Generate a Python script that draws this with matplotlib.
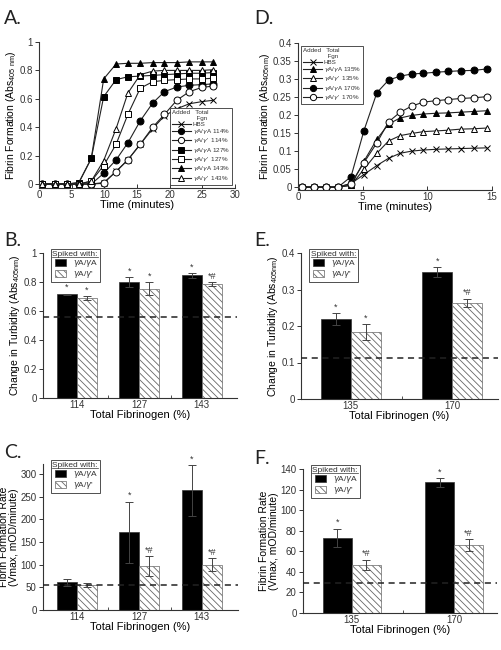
import numpy as np
import matplotlib
matplotlib.use('Agg')
import matplotlib.pyplot as plt
from matplotlib import ticker
from matplotlib.lines import Line2D

plt.rcParams['font.family'] = ['Liberation Sans', 'DejaVu Sans']
plt.rcParams['mathtext.fontset'] = 'custom'
plt.rcParams['mathtext.rm'] = 'Liberation Sans'
plt.rcParams['hatch.color'] = '#555555'
plt.rcParams['hatch.linewidth'] = 0.6
GRAY = '#333333'
plt.rcParams['text.color'] = GRAY
plt.rcParams['axes.edgecolor'] = GRAY
plt.rcParams['xtick.color'] = GRAY
plt.rcParams['ytick.color'] = GRAY

# ---- panel A: fibrin formation time course, 114-143% fibrinogen
time_a = [0.5, 2.4, 4.3, 6.1, 8.0, 9.9, 11.8, 13.6, 15.5, 17.4, 19.2, 21.1, 23.0, 24.9, 26.7]
hbs_a = [0, 0, 0, 0, 0, 0.005, 0.09, 0.17, 0.28, 0.39, 0.48, 0.53, 0.565, 0.58, 0.59]
aa114 = [0, 0, 0, 0, 0, 0.075, 0.17, 0.29, 0.445, 0.57, 0.65, 0.683, 0.695, 0.70, 0.705]
ap114 = [0, 0, 0, 0, 0, 0.01, 0.087, 0.17, 0.28, 0.40, 0.49, 0.59, 0.65, 0.68, 0.69]
aa127 = [0, 0, 0, 0.01, 0.18, 0.615, 0.735, 0.755, 0.76, 0.765, 0.77, 0.775, 0.78, 0.78, 0.785]
ap127 = [0, 0, 0, 0, 0.02, 0.13, 0.28, 0.49, 0.675, 0.72, 0.73, 0.735, 0.74, 0.74, 0.745]
aa143 = [0, 0, 0, 0.01, 0.18, 0.74, 0.845, 0.85, 0.85, 0.855, 0.855, 0.855, 0.86, 0.86, 0.86]
ap143 = [0, 0, 0, 0, 0.02, 0.165, 0.39, 0.64, 0.77, 0.795, 0.80, 0.80, 0.80, 0.80, 0.805]

# ---- panel D: fibrin formation time course, 135-170% fibrinogen
time_d = [0.3, 1.2, 2.2, 3.1, 4.1, 5.1, 6.1, 7.0, 7.9, 8.8, 9.7, 10.7, 11.6, 12.6, 13.6, 14.6]
hbs_d = [0, 0, 0, 0, 0.01, 0.035, 0.06, 0.08, 0.094, 0.10, 0.103, 0.105, 0.106, 0.107, 0.108, 0.109]
aa135 = [0, 0, 0, 0, 0.005, 0.072, 0.133, 0.175, 0.192, 0.199, 0.203, 0.205, 0.206, 0.208, 0.21, 0.212]
ap135 = [0, 0, 0, 0, 0.005, 0.05, 0.094, 0.128, 0.143, 0.149, 0.154, 0.156, 0.158, 0.161, 0.162, 0.164]
aa170 = [0, 0, 0, 0, 0.029, 0.157, 0.262, 0.297, 0.308, 0.314, 0.316, 0.319, 0.321, 0.323, 0.324, 0.328]
ap170 = [0, 0, 0, 0, 0.01, 0.068, 0.123, 0.181, 0.208, 0.225, 0.236, 0.24, 0.243, 0.246, 0.248, 0.251]

# ---- bar panels
fgn_low = ['114', '127', '143']
fgn_high = ['135', '170']

turb_aa_low = [0.715, 0.80, 0.845]
turb_aa_low_err = [0.005, 0.033, 0.018]
turb_ap_low = [0.69, 0.755, 0.785]
turb_ap_low_err = [0.015, 0.045, 0.015]
turb_hbs_low = 0.56
turb_marks_low = [['*', '*'], ['*', '*'], ['*', '*#']]

turb_aa_high = [0.22, 0.347]
turb_aa_high_err = [0.016, 0.014]
turb_ap_high = [0.184, 0.263]
turb_ap_high_err = [0.022, 0.012]
turb_hbs_high = 0.113
turb_marks_high = [['*', '*'], ['*', '*#']]

rate_aa_low = [61, 171, 264]
rate_aa_low_err = [7, 68, 56]
rate_ap_low = [55, 97, 100]
rate_ap_low_err = [4, 21, 14]
rate_hbs_low = 56
rate_marks_low = [['', ''], ['*', '*#'], ['*', '*#']]

rate_aa_high = [73, 127]
rate_aa_high_err = [9, 4.5]
rate_ap_high = [47, 66]
rate_ap_high_err = [5, 5.5]
rate_hbs_high = 29
rate_marks_high = [['*', '*#'], ['*', '*#']]

fig = plt.figure(figsize=(5.01, 6.5), dpi=100)
bar_legends = []


def time_panel(ax, t, series, styles, labels, ylim, yticks, xlim, xticks, ylabel, legloc):
  for y, (m, fc), lab in zip(series, styles, labels):
    ax.plot(t, y, color='#222222', lw=0.8, marker=m, ms=5, mfc=fc, mec='black', mew=0.7, label=lab)
  ax.set_xlim(xlim)
  ax.set_ylim(ylim)
  ax.set_xticks(xticks)
  ax.set_yticks(yticks)
  ax.yaxis.set_major_formatter(ticker.FormatStrFormatter('%g'))
  ax.tick_params(labelsize=7, length=3, width=0.7, pad=1.5)
  ax.tick_params(axis='x', direction='in')
  ax.set_xlabel('Time (minutes)', fontsize=8, labelpad=0)
  ax.set_ylabel(ylabel, fontsize=7.5, labelpad=1)
  for s in ['top', 'right']:
    ax.spines[s].set_visible(False)
  leg = ax.legend(loc=legloc, fontsize=4.5, title='Added   Total\n              Fgn', title_fontsize=4.5,
                  handlelength=3, handletextpad=0.3, labelspacing=0.05, borderpad=0.35,
                  fancybox=False, edgecolor=GRAY, framealpha=1, markerscale=0.9)
  leg.get_frame().set_linewidth(0.6)
  leg._legend_box.align = 'left'


def bar_panel(ax, cats, aa, aa_err, ap, ap_err, hbs, marks, width, xlim, ylim, yticks, ylabel):
  x = np.arange(len(cats))
  ax.bar(x - width / 2, aa, width, color='black', edgecolor=GRAY, lw=0.5, label=r'$\gamma$A/$\gamma$A', zorder=2)
  ax.bar(x + width / 2, ap, width, color='white', edgecolor='#666666', lw=0.5, hatch='\\\\\\\\\\',
         label=r"$\gamma$A/$\gamma$'", zorder=2)
  ax.errorbar(x - width / 2, aa, yerr=aa_err, fmt='none', ecolor='#444444', elinewidth=0.7, capsize=3, capthick=0.7, zorder=3)
  ax.errorbar(x + width / 2, ap, yerr=ap_err, fmt='none', ecolor='#444444', elinewidth=0.7, capsize=3, capthick=0.7, zorder=3)
  ax.axhline(hbs, color='#222222', ls=(0, (4, 3)), lw=1.1, zorder=4)
  gap = (ylim[1] - ylim[0]) * 0.01
  for i in range(len(cats)):
    ax.text(x[i] - width / 2, aa[i] + aa_err[i] + gap, marks[i][0], ha='center', va='bottom', fontsize=6.5)
    ax.text(x[i] + width / 2, ap[i] + ap_err[i] + gap, marks[i][1], ha='center', va='bottom', fontsize=6.5)
  ax.set_xlim(xlim)
  ax.set_ylim(ylim)
  ax.set_xticks(x)
  ax.set_xticklabels(cats)
  ax.set_xticks(x[:-1] + 0.5, minor=True)
  ax.set_yticks(yticks)
  ax.yaxis.set_major_formatter(ticker.FormatStrFormatter('%g'))
  ax.tick_params(labelsize=7, length=3, width=0.7, pad=1.5)
  ax.tick_params(axis='x', which='both', direction='in', length=2)
  ax.set_xlabel('Total Fibrinogen (%)', fontsize=8, labelpad=0)
  ax.set_ylabel(ylabel, fontsize=7.5, labelpad=1, linespacing=1.0)
  for s in ['top', 'right']:
    ax.spines[s].set_visible(False)
  leg = ax.legend(loc='upper left', bbox_to_anchor=(0.04, 1.025), fontsize=6, title='Spiked with:', title_fontsize=6,
                  handlelength=1.3, handleheight=0.9, handletextpad=0.8, labelspacing=0.0, borderpad=0.2,
                  borderaxespad=0.0, fancybox=False, edgecolor=GRAY, framealpha=1)
  leg.get_frame().set_linewidth(0.6)
  leg._legend_box.align = 'right'
  leg.set_zorder(5)
  bar_legends.append(leg)


styles_a = [('x', 'none'), ('o', 'black'), ('o', 'white'), ('s', 'black'), ('s', 'white'), ('^', 'black'), ('^', 'white')]
labels_a = ['HBS', r'$\gamma$A/$\gamma$A 114%', r"$\gamma$A/$\gamma$'  114%", r'$\gamma$A/$\gamma$A 127%',
            r"$\gamma$A/$\gamma$'  127%", r'$\gamma$A/$\gamma$A 143%', r"$\gamma$A/$\gamma$'  143%"]
ax_a = fig.add_axes([39 / 501, 1 - 188 / 650, 196 / 501, 146 / 650])
time_panel(ax_a, time_a, [hbs_a, aa114, ap114, aa127, ap127, aa143, ap143], styles_a, labels_a,
           (-0.028, 1.0), [0, 0.2, 0.4, 0.6, 0.8, 1], (0, 30), [0, 5, 10, 15, 20, 25, 30],
           r'Fibrin Formation (Abs$_{\mathregular{405\ nm}}$)', 'lower right')

styles_d = [('x', 'none'), ('^', 'black'), ('^', 'white'), ('o', 'black'), ('o', 'white')]
labels_d = ['HBS', r'$\gamma$A/$\gamma$A 135%', r"$\gamma$A/$\gamma$'  135%", r'$\gamma$A/$\gamma$A 170%',
            r"$\gamma$A/$\gamma$'  170%"]
ax_d = fig.add_axes([298 / 501, 1 - 190 / 650, 194 / 501, 147 / 650])
time_panel(ax_d, time_d, [hbs_d, aa135, ap135, aa170, ap170], styles_d, labels_d,
           (-0.008, 0.4), [0, 0.05, 0.1, 0.15, 0.2, 0.25, 0.3, 0.35, 0.4], (0, 15), [0, 5, 10, 15],
           r'Fibrin Formation (Abs$_{\mathregular{405nm}}$)', 'upper left')

ax_b = fig.add_axes([43 / 501, 1 - 398 / 650, 194 / 501, 145 / 650])
bar_panel(ax_b, fgn_low, turb_aa_low, turb_aa_low_err, turb_ap_low, turb_ap_low_err, turb_hbs_low,
          turb_marks_low, 0.32, (-0.54, 2.564), (0, 1), [0, 0.2, 0.4, 0.6, 0.8, 1],
          r'Change in Turbidity (Abs$_{\mathregular{405nm}}$)')

ax_e = fig.add_axes([301 / 501, 1 - 399 / 650, 197 / 501, 146 / 650])
bar_panel(ax_e, fgn_high, turb_aa_high, turb_aa_high_err, turb_ap_high, turb_ap_high_err, turb_hbs_high,
          turb_marks_high, 0.295, (-0.49, 1.45), (0, 0.4), [0, 0.1, 0.2, 0.3, 0.4],
          r'Change in Turbidity (Abs$_{\mathregular{405nm}}$)')

ax_c = fig.add_axes([43 / 501, 1 - 610 / 650, 195 / 501, 146 / 650])
bar_panel(ax_c, fgn_low, rate_aa_low, rate_aa_low_err, rate_ap_low, rate_ap_low_err, rate_hbs_low,
          rate_marks_low, 0.32, (-0.54, 2.58), (0, 322), [0, 50, 100, 150, 200, 250, 300],
          'Fibrin Formation Rate\n(Vmax, mOD/minute)')

ax_f = fig.add_axes([303 / 501, 1 - 613 / 650, 194 / 501, 144 / 650])
bar_panel(ax_f, fgn_high, rate_aa_high, rate_aa_high_err, rate_ap_high, rate_ap_high_err, rate_hbs_high,
          rate_marks_high, 0.283, (-0.476, 1.42), (0, 140), [0, 20, 40, 60, 80, 100, 120, 140],
          'Fibrin Formation Rate\n(Vmax, mOD/minute)')

# panel letters
for lab, px, py in [('A.', 4, 18), ('D.', 254, 18), ('B.', 4, 240), ('E.', 254, 240), ('C.', 4, 452), ('F.', 254, 458)]:
  fig.text(px / 501, 1 - py / 650, lab, fontsize=14, color='#222222', family=['Lato', 'DejaVu Sans'], va='center')

# underline the legend titles
fig.canvas.draw()
inv = fig.transFigure.inverted()
for leg in bar_legends:
  bb = leg.get_title().get_window_extent()
  (x0, y0), (x1, y1) = inv.transform([[bb.x0, bb.y0], [bb.x1, bb.y1]])
  fig.add_artist(Line2D([x0, x1], [y0 + 0.001, y0 + 0.001], color=GRAY, lw=0.5, zorder=10))

plt.savefig('out.png', dpi=100)
